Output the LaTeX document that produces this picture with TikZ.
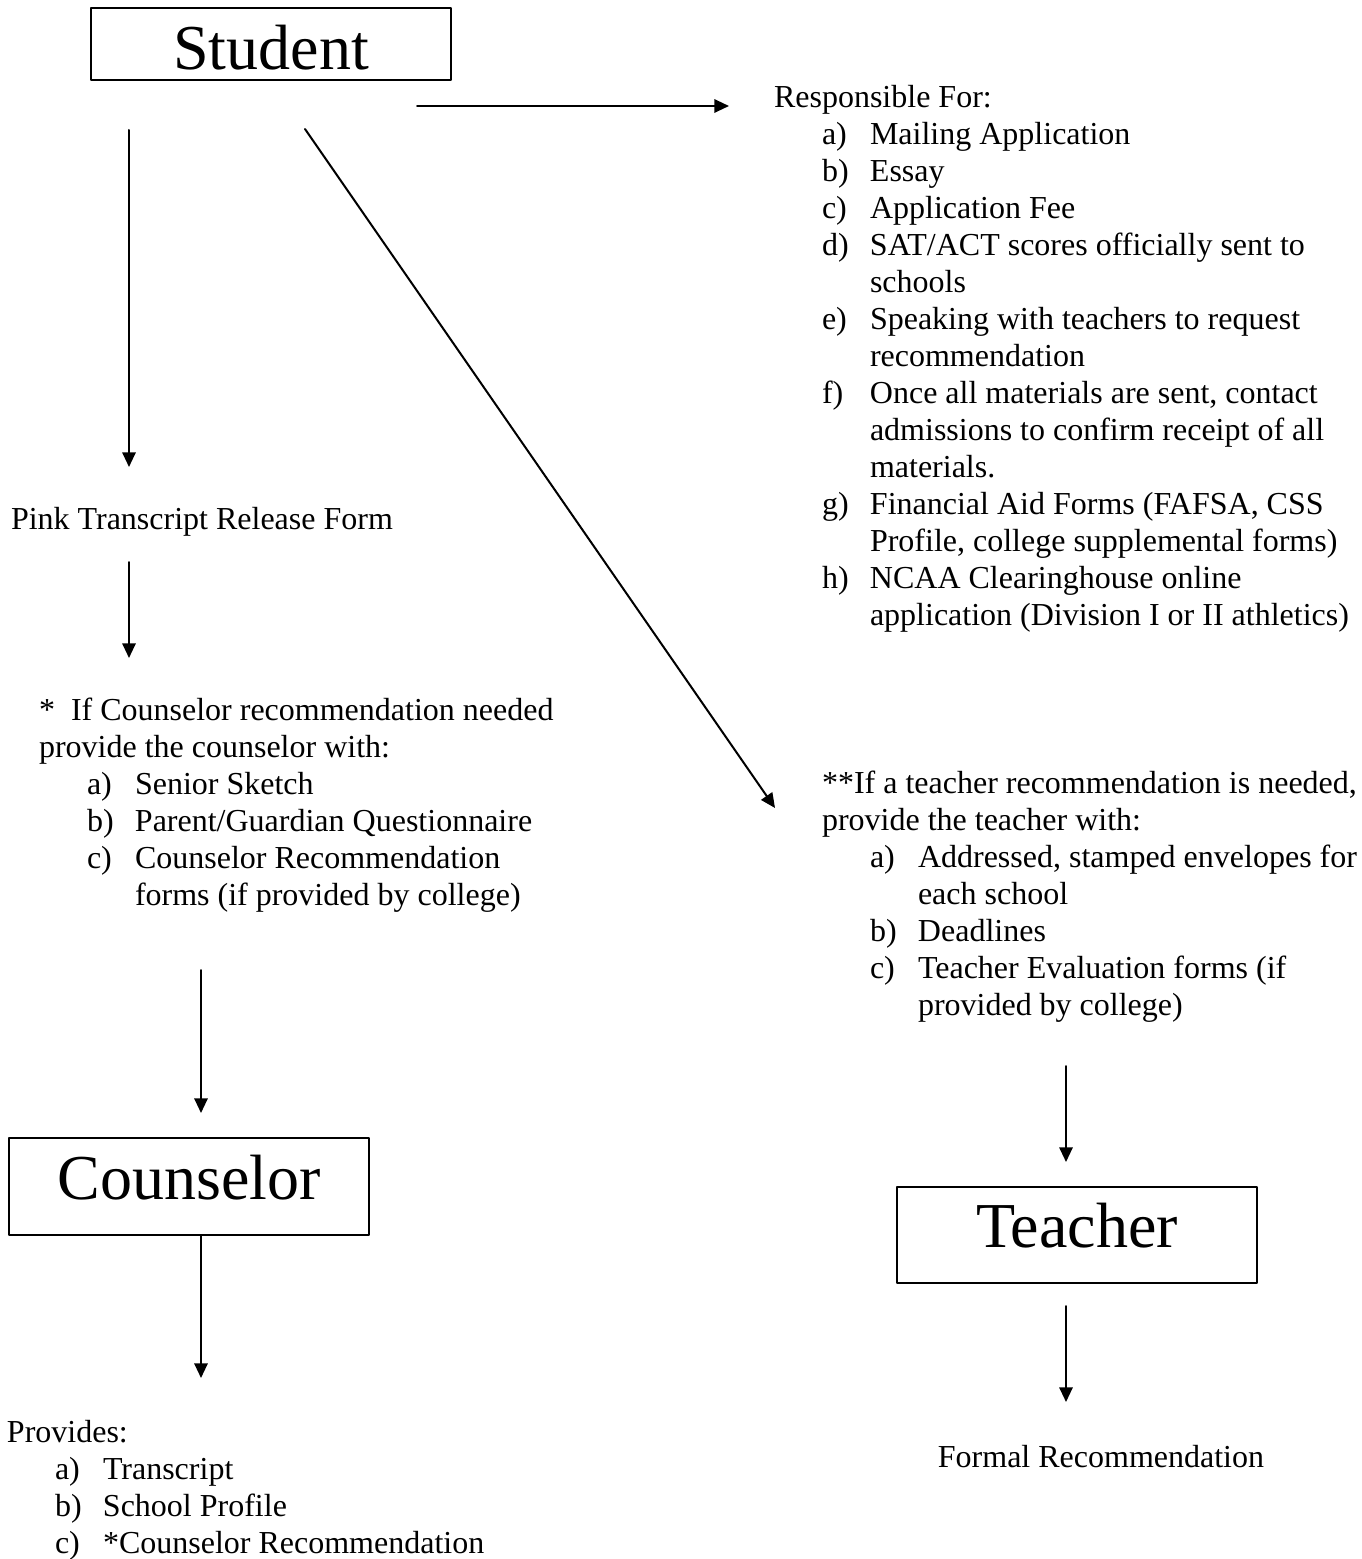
\documentclass[tikz,border=0pt]{standalone}
\usepackage{fontspec}
\setmainfont{Liberation Serif}
\usetikzlibrary{arrows.meta, positioning}
\tikzset{every node/.style={font=\fontsize{12pt}{13.875pt}\selectfont}, every path/.style={line cap=round, line join=round}, >={Triangle[length=5.5pt, width=5pt]}}
\newcommand{\itm}[2]{\hspace*{18pt}\makebox[18pt][l]{#1}#2}
\newcommand{\cnt}[1]{\hspace*{36pt}#1}

\begin{document}
\begin{tikzpicture}[x=0.375pt, y=-0.375pt, line width=0.75pt,
    bigbox/.style={draw, line width=0.85pt, minimum width=135pt, inner sep=0pt, font=\fontsize{24pt}{28pt}\selectfont},
    listtext/.style={align=left, anchor=base west, inner sep=0pt}]
    \useasboundingbox (0,0) rectangle (1362,1559);

    % boxes
    \node [bigbox, minimum height=27pt, text height=19.5pt, text depth=0pt] (student) at (271,44) {Student};
    \node [bigbox, minimum height=36.4pt, text height=16.4pt, text depth=6.4pt] (counselor) at (189,1186.5) {Counselor};
    \node [bigbox, minimum height=36pt, text height=16.4pt, text depth=7.4pt] (teacher) at (1077,1235) {Teacher};

    % texts (placed at the baseline of their last line)
    \node [listtext] (resp) at (773,625) {Responsible For:\\
        \itm{a)}{Mailing Application}\\
        \itm{b)}{Essay}\\
        \itm{c)}{Application Fee}\\
        \itm{d)}{SAT/ACT scores officially sent to}\\
        \cnt{schools}\\
        \itm{e)}{Speaking with teachers to request}\\
        \cnt{recommendation}\\
        \itm{f)}{Once all materials are sent, contact}\\
        \cnt{admissions to confirm receipt of all}\\
        \cnt{materials.}\\
        \itm{g)}{Financial Aid Forms (FAFSA, CSS}\\
        \cnt{Profile, college supplemental forms)}\\
        \itm{h)}{NCAA Clearinghouse online}\\
        \cnt{application (Division I or II athletics)}};
    \node [listtext] (pink) at (10,529) {Pink Transcript Release Form};
    \node [listtext] (cneed) at (38,905) {*\ \ If Counselor recommendation needed\\
        provide the counselor with:\\
        \itm{a)}{Senior Sketch}\\
        \itm{b)}{Parent/Guardian Questionnaire}\\
        \itm{c)}{Counselor Recommendation}\\
        \cnt{forms (if provided by college)}};
    \node [listtext] (tneed) at (821,1015) {**If a teacher recommendation is needed,\\
        provide the teacher with:\\
        \itm{a)}{Addressed, stamped envelopes for}\\
        \cnt{each school}\\
        \itm{b)}{Deadlines}\\
        \itm{c)}{Teacher Evaluation forms (if}\\
        \cnt{provided by college)}};
    \node [listtext] (provides) at (6,1553) {Provides:\\
        \itm{a)}{Transcript}\\
        \itm{b)}{School Profile}\\
        \itm{c)}{*Counselor Recommendation}};
    \node [anchor=base, inner sep=0pt] (formal) at (1101,1467) {Formal Recommendation};

    % arrow ends
    \coordinate (s1) at (129,130);   \coordinate (e1) at (129,467);
    \coordinate (s2) at (417,106);   \coordinate (e2) at (729,106);
    \coordinate (s3) at (305,129);   \coordinate (e3) at (775,808);
    \coordinate (s4) at (129,562);   \coordinate (e4) at (129,658);
    \coordinate (s5) at (201,970);   \coordinate (e5) at (201,1113);
    \coordinate (e6) at (201,1378);
    \coordinate (s7) at (1066,1066); \coordinate (e7) at (1066,1162);
    \coordinate (s8) at (1066,1306); \coordinate (e8) at (1066,1402);

    \draw [->] (s1) -- (e1);
    \draw [->] (s2) -- (e2);
    \draw [->] (s3) -- (e3);
    \draw [->] (s4) -- (e4);
    \draw [->] (s5) -- (e5);
    \draw [->] (counselor.south -| e6) -- (e6);
    \draw [->] (s7) -- (e7);
    \draw [->] (s8) -- (e8);
\end{tikzpicture}
\end{document}
